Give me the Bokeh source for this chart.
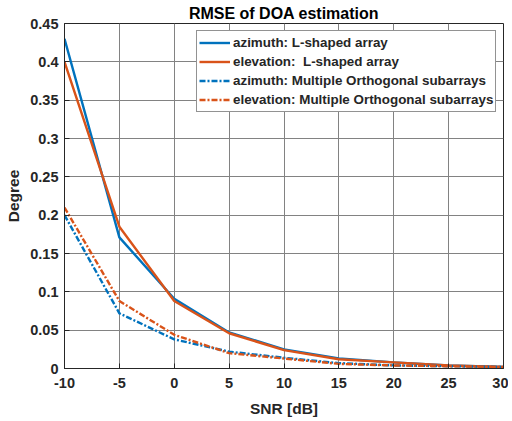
from bokeh.plotting import figure
from bokeh.embed import file_html
from bokeh.resources import INLINE
from bokeh.models import Legend, LegendItem, FixedTicker, Range1d

snr = [-10, -5, 0, 5, 10, 15, 20, 25, 30]
az_L = [0.430, 0.171, 0.091, 0.047, 0.025, 0.013, 0.008, 0.004, 0.002]
el_L = [0.400, 0.185, 0.088, 0.046, 0.024, 0.012, 0.008, 0.004, 0.002]
az_MO = [0.200, 0.072, 0.038, 0.022, 0.014, 0.007, 0.004, 0.003, 0.002]
el_MO = [0.210, 0.088, 0.044, 0.020, 0.013, 0.006, 0.004, 0.003, 0.002]

x_ticks = [-10, -5, 0, 5, 10, 15, 20, 25, 30]
x_labels = {-10: "-10", -5: "-5", 0: "0", 5: "5", 10: "10", 15: "15", 20: "20", 25: "25", 30: "30"}
y_ticks = [0, 0.05, 0.1, 0.15, 0.2, 0.25, 0.3, 0.35, 0.4, 0.45]
y_labels = {0: "0", 0.05: "0.05", 0.1: "0.1", 0.15: "0.15", 0.2: "0.2", 0.25: "0.25",
            0.3: "0.3", 0.35: "0.35", 0.4: "0.4", 0.45: "0.45"}

BLUE = "#0072BD"
ORANGE = "#D95319"
FONT = "Liberation Sans"
TXT = "#262626"

p = figure(width=508, height=419, output_backend="svg", toolbar_location=None,
           x_range=Range1d(-10, 30), y_range=Range1d(0, 0.45),
           min_border_left=64, min_border_right=5, min_border_bottom=50, min_border_top=23)

p.title.text = "RMSE of DOA estimation"
p.title.align = "center"
p.title.text_font = FONT
p.title.text_font_size = "16px"
p.title.text_font_style = "bold"
p.title.text_color = "#000000"
p.title.offset = 0
p.title.standoff = 4

p.outline_line_color = TXT
p.outline_line_width = 1

for ax in (p.xaxis[0], p.yaxis[0]):
    ax.major_label_text_font = FONT
    ax.major_label_text_font_size = "14.5px"
    ax.major_label_text_font_style = "bold"
    ax.major_label_text_color = TXT
    ax.axis_label_text_font = FONT
    ax.axis_label_text_font_size = "15.5px"
    ax.axis_label_text_font_style = "bold"
    ax.axis_label_text_color = TXT
    ax.axis_line_color = TXT
    ax.major_tick_line_color = TXT
    ax.major_tick_in = 5
    ax.major_tick_out = 0
    ax.minor_tick_line_color = None

p.xaxis.ticker = FixedTicker(ticks=x_ticks)
p.xaxis.major_label_overrides = x_labels
p.yaxis.ticker = FixedTicker(ticks=y_ticks)
p.yaxis.major_label_overrides = y_labels
p.xaxis.axis_label = "SNR [dB]"
p.yaxis.axis_label = "Degree"
p.xaxis.axis_label_standoff = 9
p.yaxis.axis_label_standoff = 5
p.xaxis.major_label_standoff = 9
p.yaxis.major_label_standoff = 6

p.grid.grid_line_color = "#828282"
p.grid.grid_line_width = 1

r1 = p.line(snr, az_L, line_color=BLUE, line_width=2.4)
r2 = p.line(snr, el_L, line_color=ORANGE, line_width=2.4)
r3 = p.line(snr, az_MO, line_color=BLUE, line_width=2.4, line_dash="6 2 2 2")
r4 = p.line(snr, el_MO, line_color=ORANGE, line_width=2.4, line_dash="6 2 2 2")

legend = Legend(items=[
    LegendItem(label="azimuth: L-shaped array", renderers=[r1]),
    LegendItem(label="elevation:  L-shaped array", renderers=[r2]),
    LegendItem(label="azimuth: Multiple Orthogonal subarrays", renderers=[r3]),
    LegendItem(label="elevation: Multiple Orthogonal subarrays", renderers=[r4]),
], location=(132, 256))
legend.margin = 0
legend.padding = 2
legend.spacing = 0
legend.glyph_width = 31
legend.glyph_height = 19
legend.label_height = 19
legend.label_standoff = 3
legend.label_text_font = FONT
legend.label_text_font_size = "13.4px"
legend.label_text_font_style = "bold"
legend.label_text_color = TXT
legend.border_line_color = TXT
legend.border_line_width = 1
legend.background_fill_color = "white"
legend.background_fill_alpha = 1
p.add_layout(legend)

open("out.html", "w").write(file_html(p, INLINE))
